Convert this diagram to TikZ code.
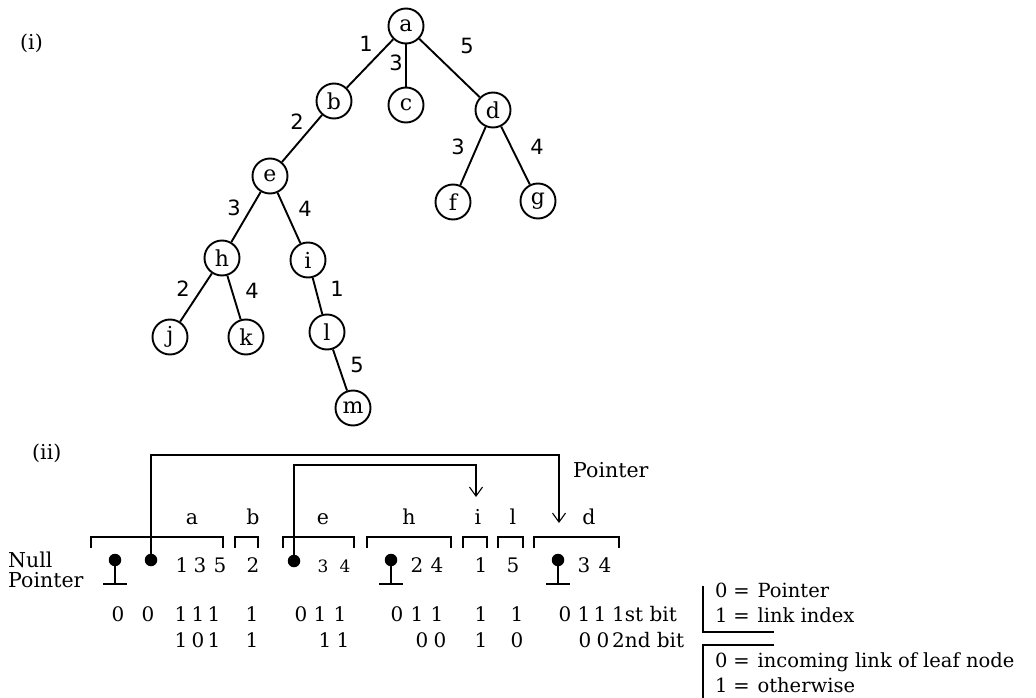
\documentclass[tikz,border=0pt]{standalone}
\usepackage{fontspec}
\setmainfont{DejaVu Serif}
\newfontfamily\lblfont{DejaVu Sans}
\usetikzlibrary{arrows.meta}
\begin{document}
\begin{tikzpicture}[x=1pt,y=-1pt,
  tn/.style={circle,draw,line width=1.9pt,minimum size=35pt,inner sep=0pt,font=\fontsize{22}{24}\selectfont},
  te/.style={line width=1.9pt},
  el/.style={font=\lblfont\fontsize{21}{22}\selectfont,inner sep=0pt},
  lab/.style={font=\fontsize{20.5}{24}\selectfont,inner sep=0pt,anchor=base},
  dig/.style={font=\fontsize{20}{22}\selectfont,inner sep=0pt,anchor=base},
  sdig/.style={font=\fontsize{17}{20}\selectfont,inner sep=0pt,anchor=base},
  bit/.style={font=\fontsize{20}{22}\selectfont,inner sep=0pt,anchor=base},
  leg/.style={font=\fontsize{19.5}{20}\selectfont,inner sep=0pt,anchor=base west},
  dot/.style={circle,fill,inner sep=0pt,minimum size=12.5pt},
  ln/.style={line width=1.1pt},
  brk/.style={line width=1.1pt},
  ptr/.style={line width=1.1pt,-{Straight Barb[length=9pt,width=13pt,line width=1.1pt]}}
]
\useasboundingbox (0,0) rectangle (1036,698);

% ---------- (i) tree ----------
\node[lab,anchor=base west] (lbli) at (20,50) {(i)};
\node[tn] (a) at (406,26) {a};
\node[tn] (b) at (334,101) {b};
\node[tn] (c) at (406,105) {c};
\node[tn] (d) at (493,110) {d};
\node[tn] (e) at (270,176) {e};
\node[tn] (f) at (453,202) {f};
\node[tn] (g) at (538,201) {g};
\node[tn] (h) at (222,258) {h};
\node[tn] (i) at (308,260) {i};
\node[tn] (j) at (170,337) {j};
\node[tn] (k) at (246,337) {k};
\node[tn] (l) at (327,332) {l};
\node[tn] (m) at (353,408) {m};

\draw[te] (a) -- (b);
\draw[te] (a) -- (c);
\draw[te] (a) -- (d);
\draw[te] (b) -- (e);
\draw[te] (d) -- (f);
\draw[te] (d) -- (g);
\draw[te] (e) -- (h);
\draw[te] (e) -- (i);
\draw[te] (h) -- (j);
\draw[te] (h) -- (k);
\draw[te] (i) -- (l);
\draw[te] (l) -- (m);

\node[el] (lab1) at (366,44) {1};
\node[el] (lac3) at (396,63) {3};
\node[el] (lad5) at (467,46) {5};
\node[el] (lbe2) at (297,122) {2};
\node[el] (ldf3) at (458,147) {3};
\node[el] (ldg4) at (537,147) {4};
\node[el] (leh3) at (234,208) {3};
\node[el] (lei4) at (305,209) {4};
\node[el] (lhj2) at (183,289) {2};
\node[el] (lhk4) at (252,291) {4};
\node[el] (lil1) at (337,289) {1};
\node[el] (llm5) at (357,365) {5};

% ---------- (ii) ----------
\node[lab,anchor=base west] (lblii) at (32,459) {(ii)};
\node[lab,anchor=base west] (nulla) at (8,567) {Null};
\node[lab,anchor=base west] (nullb) at (8,587) {Pointer};
\node[lab,anchor=base west] (ptrlbl) at (573,477) {Pointer};

% group labels
\node[lab] (ga) at (192,524) {a};
\node[lab] (gb) at (253,524) {b};
\node[lab] (ge) at (323,524) {e};
\node[lab] (gh) at (409,524) {h};
\node[lab] (gi) at (478,524) {i};
\node[lab] (gl) at (513,524) {l};
\node[lab] (gd) at (589,524) {d};

% brackets
\draw[brk] (91,548) -- (91,537) -- (223,537) -- (223,548);
\draw[brk] (235,548) -- (235,537) -- (258,537) -- (258,548);
\draw[brk] (283,548) -- (283,537) -- (354,537) -- (354,548);
\draw[brk] (367,548) -- (367,537) -- (451,537) -- (451,548);
\draw[brk] (463,548) -- (463,537) -- (487,537) -- (487,548);
\draw[brk] (498,548) -- (498,537) -- (523,537) -- (523,548);
\draw[brk] (534,548) -- (534,537) -- (619,537) -- (619,548);

% null pointers
\foreach \nm/\x in {na/115, nh/391, nd/558}{
  \node[dot] (\nm) at (\x,560) {};
  \coordinate (\nm g) at (\x,584);
  \draw[ln] (\nm.center) -- (\nm g);
  \draw[ln] ([xshift=-12pt]\nm g) -- ([xshift=12pt]\nm g);
}

% pointers
\node[dot] (pa) at (151,560) {};
\node[dot] (pe) at (294,561) {};
\coordinate (tipd) at (559,523);
\coordinate (tipi) at (476,497);
\draw[ptr] (pa.center) -- ++(0,-105) -| (tipd);
\draw[ptr] (pe.center) -- ++(0,-96) -| (tipi);

% link indexes
\node[dig] (va1) at (182,572) {1};
\node[dig] (va3) at (200,572) {3};
\node[dig] (va5) at (220,572) {5};
\node[dig] (vb2) at (253,572) {2};
\node[sdig] (ve3) at (323,572) {3};
\node[sdig] (ve4) at (345,572) {4};
\node[dig] (vh2) at (417,572) {2};
\node[dig] (vh4) at (437,572) {4};
\node[dig] (vi1) at (481,572) {1};
\node[dig] (vl5) at (513,572) {5};
\node[dig] (vd3) at (584,572) {3};
\node[dig] (vd4) at (605,572) {4};

% 1st bit row
\foreach \x/\v [count=\n] in {118/0,148/0,181/1,198/1,214/1,252/1,301/0,320/1,340/1,397/0,417/1,437/1,481/1,517/1,565/0,584/1,600/1}{
  \node[bit] (ra\n) at (\x,621) {\v};
}
\node[bit,anchor=base west] (first) at (612,621) {1st bit};

% 2nd bit row
\foreach \x/\v [count=\n] in {181/1,198/0,214/1,252/1,325/1,343/1,422/0,440/0,481/1,517/0,585/0,603/0}{
  \node[bit] (rb\n) at (\x,647) {\v};
}
\node[bit,anchor=base west] (second) at (612,647) {2nd bit};

% legend
\draw[ln] (703,586) -- (703,632) -- (774,632);
\draw[ln] (774,645) -- (703,645) -- (703,698);
\node[leg] (l1) at (715,597) {0\hspace{0.3em}=\hspace{0.4em}Pointer};
\node[leg] (l2) at (715,622) {1\hspace{0.3em}=\hspace{0.4em}link index};
\node[leg] (l3) at (715,667) {0\hspace{0.3em}=\hspace{0.4em}incoming link of leaf node};
\node[leg] (l4) at (715,692) {1\hspace{0.3em}=\hspace{0.4em}otherwise};
\end{tikzpicture}
\end{document}
